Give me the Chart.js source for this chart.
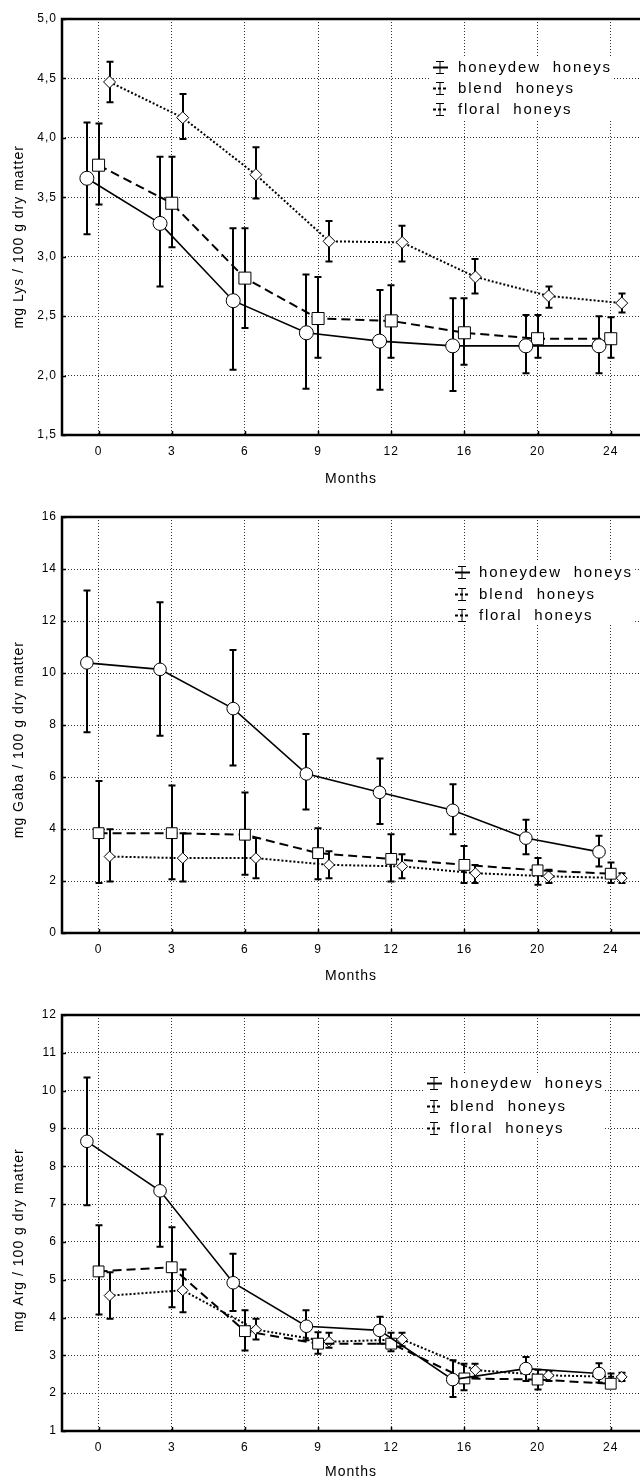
<!DOCTYPE html>
<html>
<head>
<meta charset="utf-8">
<title>Amino acids in honey during storage</title>
<script src="https://cdn.jsdelivr.net/npm/chart.js@4.4.1/dist/chart.umd.min.js"></script>
<style>
  html, body { margin: 0; padding: 0; background: #fff; }
  canvas { display: block; }
</style>
</head>
<body>
<canvas id="lysChart" width="640" height="495"></canvas>
<canvas id="gabaChart" width="640" height="500"></canvas>
<canvas id="argChart" width="640" height="487"></canvas>
<script>
// storage time (months) and series names
const months = ['0', '3', '6', '9', '12', '16', '20', '24'];
const seriesNames = ['honeydew  honeys', 'blend  honeys', 'floral  honeys'];

// Lys, mg / 100 g dry matter
const lysTicks = [1.5, 2.0, 2.5, 3.0, 3.5, 4.0, 4.5, 5.0];
const lysHoneydew = [3.66, 3.28, 2.63, 2.36, 2.29, 2.25, 2.25, 2.25];
const lysHoneydewLow = [3.19, 2.75, 2.05, 1.89, 1.88, 1.87, 2.02, 2.02];
const lysHoneydewHigh = [4.13, 3.84, 3.24, 2.85, 2.72, 2.65, 2.51, 2.50];
const lysBlend = [3.77, 3.45, 2.82, 2.48, 2.46, 2.36, 2.31, 2.31];
const lysBlendLow = [3.44, 3.08, 2.40, 2.15, 2.15, 2.09, 2.15, 2.15];
const lysBlendHigh = [4.12, 3.84, 3.24, 2.83, 2.76, 2.65, 2.51, 2.49];
const lysFloral = [4.47, 4.17, 3.69, 3.13, 3.12, 2.83, 2.67, 2.61];
const lysFloralLow = [4.30, 3.99, 3.49, 2.96, 2.96, 2.69, 2.57, 2.53];
const lysFloralHigh = [4.64, 4.37, 3.92, 3.30, 3.26, 2.98, 2.75, 2.69];

// Gaba, mg / 100 g dry matter
const gabaTicks = [0, 2, 4, 6, 8, 10, 12, 14, 16];
const gabaHoneydew = [10.39, 10.14, 8.63, 6.12, 5.41, 4.72, 3.65, 3.12];
const gabaHoneydewLow = [7.72, 7.59, 6.44, 4.75, 4.19, 3.80, 3.03, 2.56];
const gabaHoneydewHigh = [13.17, 12.72, 10.88, 7.65, 6.71, 5.72, 4.36, 3.74];
const gabaBlend = [3.84, 3.84, 3.78, 3.07, 2.85, 2.62, 2.41, 2.28];
const gabaBlendLow = [1.92, 2.07, 2.24, 2.07, 1.98, 1.92, 1.86, 1.92];
const gabaBlendHigh = [5.85, 5.67, 5.40, 4.03, 3.80, 3.35, 2.88, 2.71];
const gabaFloral = [2.94, 2.88, 2.88, 2.62, 2.56, 2.30, 2.18, 2.11];
const gabaFloralLow = [1.98, 1.98, 2.11, 2.11, 2.11, 1.92, 1.92, 1.92];
const gabaFloralHigh = [3.99, 3.84, 3.65, 3.14, 3.03, 2.62, 2.43, 2.30];

// Arg, mg / 100 g dry matter
const argTicks = [1, 2, 3, 4, 5, 6, 7, 8, 9, 10, 11, 12];
const argHoneydew = [8.66, 7.35, 4.92, 3.77, 3.66, 2.36, 2.65, 2.52];
const argHoneydewLow = [6.97, 5.87, 4.17, 3.40, 3.31, 1.90, 2.32, 2.28];
const argHoneydewHigh = [10.35, 8.85, 5.69, 4.19, 4.02, 2.87, 2.96, 2.79];
const argBlend = [5.22, 5.33, 3.64, 3.31, 3.31, 2.39, 2.36, 2.25];
const argBlendLow = [4.08, 4.27, 3.13, 3.04, 3.11, 2.08, 2.10, 2.26];
const argBlendHigh = [6.44, 6.39, 4.19, 3.61, 3.60, 2.78, 2.62, 2.52];
const argFloral = [4.58, 4.72, 3.68, 3.36, 3.42, 2.61, 2.47, 2.43];
const argFloralLow = [3.97, 4.14, 3.42, 3.20, 3.24, 2.41, 2.32, 2.32];
const argFloralHigh = [5.20, 5.27, 3.97, 3.60, 3.60, 2.78, 2.58, 2.54];

Chart.defaults.font.family = '"Liberation Sans", Arial, sans-serif';
Chart.defaults.color = '#000';
Chart.defaults.animation = false;

// one look per series: marker, line style and the small sideways shift
const seriesStyles = [
    { pointStyle: 'circle', radius: 7, lineWidth: 1.6, dash: [], shift: -0.16 },
    { pointStyle: 'rect', radius: 8.5, lineWidth: 2, dash: [9, 5], shift: 0 },
    { pointStyle: 'rectRot', radius: 6, lineWidth: 2, dash: [2, 2], shift: 0.15 }
];

const formatComma = (v) => v.toFixed(1).replace('.', ',');

/**
 * Vertical error bars with caps, drawn under the lines and markers
 */
const errorBarsPlugin = {
    id: 'errorBars',
    beforeDatasetsDraw(chart) {
        const { ctx } = chart;
        const xScale = chart.scales.x;
        const yScale = chart.scales.y;
        ctx.save();
        ctx.strokeStyle = '#000';
        ctx.lineWidth = 2;
        ctx.setLineDash([]);
        chart.data.datasets.forEach(ds => {
            ds.low.forEach((lo, i) => {
                const px = Math.round(xScale.getPixelForValue(i + ds.shift));
                const top = yScale.getPixelForValue(ds.high[i]);
                const bot = yScale.getPixelForValue(lo);
                ctx.beginPath();
                ctx.moveTo(px, top);
                ctx.lineTo(px, bot);
                ctx.moveTo(px - 3.5, top);
                ctx.lineTo(px + 3.5, top);
                ctx.moveTo(px - 3.5, bot);
                ctx.lineTo(px + 3.5, bot);
                ctx.stroke();
            });
        });
        ctx.restore();
    }
};

/**
 * Heavy frame on left, top and bottom plus small inward tick marks
 */
const framePlugin = {
    id: 'frame',
    beforeDraw(chart) {
        chart.ctx.letterSpacing = '1px';
    },
    afterDatasetsDraw(chart) {
        const { ctx, chartArea: { left, top, right, bottom } } = chart;
        ctx.save();
        ctx.strokeStyle = '#000';
        ctx.setLineDash([]);
        ctx.lineWidth = 1.5;
        chart.scales.y.ticks.forEach(t => {
            const py = Math.round(chart.scales.y.getPixelForValue(t.value)) + 0.5;
            ctx.beginPath();
            ctx.moveTo(left, py);
            ctx.lineTo(left + 4, py);
            ctx.stroke();
        });
        chart.scales.x.ticks.forEach(t => {
            const px = Math.round(chart.scales.x.getPixelForValue(t.value)) + 0.5;
            ctx.beginPath();
            ctx.moveTo(px, bottom);
            ctx.lineTo(px, bottom - 4);
            ctx.stroke();
        });
        ctx.lineWidth = 2.5;
        ctx.beginPath();
        ctx.moveTo(right + 2, top);
        ctx.lineTo(left, top);
        ctx.lineTo(left, bottom);
        ctx.lineTo(right + 2, bottom);
        ctx.stroke();
        ctx.restore();
    }
};

/**
 * Legend inside the plot, upper right, on a white patch
 */
const cornerLegendPlugin = {
    id: 'cornerLegend',
    afterDraw(chart, args, opts) {
        const { ctx } = chart;
        const datasets = chart.data.datasets;
        ctx.save();
        ctx.font = '15px "Liberation Sans", Arial, sans-serif';
        ctx.letterSpacing = '1.8px';
        const widest = Math.max(...datasets.map(ds => ctx.measureText(ds.label).width));
        ctx.fillStyle = '#fff';
        ctx.fillRect(opts.x - 2, opts.top - 10, opts.textX - opts.x + widest + 2, opts.gap * (datasets.length - 1) + 20);

        datasets.forEach((ds, k) => {
            const y = Math.round(opts.top + k * opts.gap) + 0.5;
            const cx = opts.x + 7;
            ctx.strokeStyle = '#000';
            ctx.setLineDash([]);
            ctx.lineWidth = 1;
            ctx.beginPath();
            ctx.moveTo(cx, y - 6);
            ctx.lineTo(cx, y + 6);
            ctx.moveTo(cx - 4, y - 6);
            ctx.lineTo(cx + 4, y - 6);
            ctx.moveTo(cx - 4, y + 6);
            ctx.lineTo(cx + 4, y + 6);
            ctx.stroke();
            ctx.lineWidth = 2;
            ctx.setLineDash(ds.borderDash.length ? [3, 2] : []);
            ctx.beginPath();
            ctx.moveTo(opts.x, y);
            ctx.lineTo(opts.x + 15, y);
            ctx.stroke();

            ctx.setLineDash([]);
            ctx.fillStyle = '#000';
            ctx.textAlign = 'left';
            ctx.textBaseline = 'middle';
            ctx.fillText(ds.label, opts.textX, y);
        });
        ctx.restore();
    }
};

function buildDatasets(means, lows, highs, markerScale) {
    return means.map((values, k) => {
        const st = seriesStyles[k];
        return {
            label: seriesNames[k],
            data: values.map((v, i) => ({ x: i + st.shift, y: v })),
            low: lows[k],
            high: highs[k],
            shift: st.shift,
            borderColor: '#000',
            borderWidth: st.lineWidth,
            borderDash: st.dash,
            pointStyle: st.pointStyle,
            pointRadius: st.radius * markerScale,
            pointBackgroundColor: '#fff',
            pointBorderColor: '#000',
            pointBorderWidth: 1,
            tension: 0,
            fill: false
        };
    });
}

function renderPanel(canvasId, panel) {
    const ctx = document.getElementById(canvasId);
    return new Chart(ctx.getContext('2d'), {
        type: 'line',
        data: { datasets: panel.datasets },
        options: {
            responsive: false,
            layout: { autoPadding: false, padding: { top: panel.padTop, right: 0, left: 0, bottom: 0 } },
            scales: {
                x: {
                    type: 'linear',
                    min: -0.5,
                    max: 7.4,
                    afterBuildTicks: s => { s.ticks = months.map((_, i) => ({ value: i })); },
                    afterFit: s => { s.height = panel.xAxisHeight; },
                    grid: { color: '#333', lineWidth: 1, drawTicks: false },
                    border: { display: false, dash: [1, 2] },
                    ticks: {
                        autoSkip: false,
                        maxRotation: 0,
                        padding: 9,
                        font: { size: 12 },
                        callback: (value) => months[value]
                    },
                    title: {
                        display: true,
                        text: 'Months',
                        font: { size: 14 },
                        padding: { top: 0, bottom: panel.titlePad }
                    }
                },
                y: {
                    min: panel.yTicks[0],
                    max: panel.yTicks[panel.yTicks.length - 1],
                    afterBuildTicks: s => { s.ticks = panel.yTicks.map(v => ({ value: v })); },
                    afterFit: s => { s.width = 62; },
                    grid: { color: '#333', lineWidth: 1, drawTicks: false },
                    border: { display: false, dash: [1, 2] },
                    ticks: {
                        padding: 5,
                        font: { size: 12 },
                        callback: panel.tickFormat
                    },
                    title: {
                        display: true,
                        // trailing blanks push the centred title a little lower, as in the source figure
                        text: panel.yTitle + ' '.repeat(panel.titleShift),
                        font: { size: 14 },
                        padding: { top: 11, bottom: 0 }
                    }
                }
            },
            plugins: {
                legend: { display: false },
                tooltip: { enabled: false },
                cornerLegend: panel.legend
            }
        },
        plugins: [framePlugin, errorBarsPlugin, cornerLegendPlugin]
    });
}

renderPanel('lysChart', {
    datasets: buildDatasets(
        [lysHoneydew, lysBlend, lysFloral],
        [lysHoneydewLow, lysBlendLow, lysFloralLow],
        [lysHoneydewHigh, lysBlendHigh, lysFloralHigh], 1),
    yTicks: lysTicks,
    tickFormat: formatComma,
    yTitle: 'mg Lys / 100 g dry matter',
    titleShift: 4,
    padTop: 19,
    xAxisHeight: 60,
    titlePad: 7,
    legend: { x: 433, textX: 458, top: 67, gap: 21 }
});

renderPanel('gabaChart', {
    datasets: buildDatasets(
        [gabaHoneydew, gabaBlend, gabaFloral],
        [gabaHoneydewLow, gabaBlendLow, gabaFloralLow],
        [gabaHoneydewHigh, gabaBlendHigh, gabaFloralHigh], 0.9),
    yTicks: gabaTicks,
    tickFormat: (v) => String(v),
    yTitle: 'mg Gaba / 100 g dry matter',
    titleShift: 6,
    padTop: 22,
    xAxisHeight: 62,
    titlePad: 10,
    legend: { x: 455, textX: 479, top: 77, gap: 21.5 }
});

renderPanel('argChart', {
    datasets: buildDatasets(
        [argHoneydew, argBlend, argFloral],
        [argHoneydewLow, argBlendLow, argFloralLow],
        [argHoneydewHigh, argBlendHigh, argFloralHigh], 0.9),
    yTicks: argTicks,
    tickFormat: (v) => String(v),
    yTitle: 'mg Arg / 100 g dry matter',
    titleShift: 7,
    padTop: 20,
    xAxisHeight: 51,
    titlePad: 1,
    legend: { x: 427, textX: 450, top: 88, gap: 22.5 }
});
</script>
</body>
</html>
